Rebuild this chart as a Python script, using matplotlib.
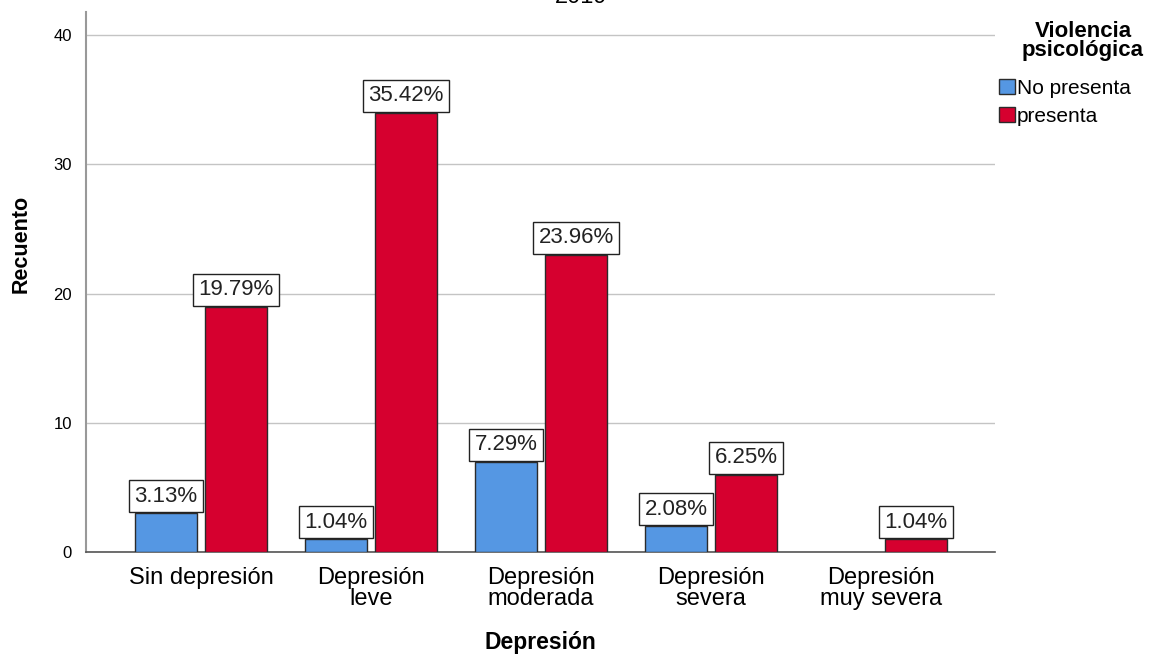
import matplotlib
matplotlib.use("Agg")
import matplotlib.pyplot as plt
import numpy as np
from decimal import Decimal, ROUND_HALF_UP
from matplotlib.patches import Patch

plt.rcParams['font.family'] = ['Liberation Sans', 'DejaVu Sans']

categories = ["Sin depresión", "Depresión\nleve", "Depresión\nmoderada",
              "Depresión\nsevera", "Depresión\nmuy severa"]
series_names = ["No presenta", "presenta"]
no_presenta = [3, 1, 7, 2, 0]
presenta = [19, 34, 23, 6, 1]
total = sum(no_presenta) + sum(presenta)
yticks = [0, 10, 20, 30, 40]
title = "2019"
legend_title = ["Violencia", "psicológica"]

colors = ["#5597E3", "#D6002F"]


def pct(v):
    p = Decimal(v * 100) / Decimal(total)
    return f"{p.quantize(Decimal('0.01'), rounding=ROUND_HALF_UP)}%"


fig = plt.figure(figsize=(11.59, 6.56), dpi=100)
ax = fig.add_axes([0.0742, 0.1585, 0.7843, 0.8232])

x = np.arange(len(categories))
width = 0.365
offset = 0.206
label_fs = 16
label_pad = 0.25

for vals, dx, col in [(no_presenta, -offset, colors[0]), (presenta, offset, colors[1])]:
    bars = ax.bar(x + dx, vals, width, color=col, edgecolor="#2b2b2b", linewidth=1.0, zorder=3)
    for b, v in zip(bars, vals):
        if v == 0:
            b.set_visible(False)
            continue
        ax.annotate(pct(v),
                    xy=(b.get_x() + b.get_width() / 2, v),
                    xytext=(0, label_pad * label_fs + 0.6), textcoords="offset points",
                    ha="center", va="bottom", fontsize=label_fs, color="#222222",
                    bbox=dict(boxstyle=f"square,pad={label_pad}", fc="white",
                              ec="#222222", lw=1.0),
                    zorder=5)

ax.set_xlim(-0.676, 4.67)
ax.set_ylim(0, 41.8)
ax.set_yticks(yticks)
ax.set_yticklabels([str(t) for t in yticks], fontsize=12)
ax.set_xticks(x)
ax.set_xticklabels(categories, fontsize=17, linespacing=0.92)
ax.tick_params(axis="x", length=0, pad=11)
ax.tick_params(axis="y", length=0, pad=10)

ax.grid(axis="y", color="#c4c4c4", linewidth=1.0, zorder=0)
ax.set_axisbelow(True)
for s in ["top", "right"]:
    ax.spines[s].set_visible(False)
ax.spines["left"].set_color("#999999")
ax.spines["left"].set_linewidth(1.5)
ax.spines["bottom"].set_color("#555555")
ax.spines["bottom"].set_linewidth(1.2)

ax.set_ylabel("Recuento", fontsize=15.5, fontweight="bold", va="center")
ax.yaxis.set_label_coords(-0.071, 0.57)
ax.set_xlabel("Depresión", fontsize=16.5, fontweight="bold", va="center")
ax.xaxis.set_label_coords(0.5, -0.168)

fig.text(581 / 1159, 1 - 3 / 656, title, ha="center", va="baseline", fontsize=17)

# legend heading drawn as two centred lines above the entries
fig.text(1083 / 1159, 1 - 37 / 656, legend_title[0], ha="center", va="baseline",
         fontsize=16, fontweight="bold")
fig.text(1083 / 1159, 1 - 56 / 656, legend_title[1], ha="center", va="baseline",
         fontsize=16, fontweight="bold")

handles = [Patch(facecolor=c, edgecolor="#2b2b2b", linewidth=1.0) for c in colors]
leg = fig.legend(handles, series_names,
                 loc="upper left", bbox_to_anchor=(999 / 1159, 1 - 79 / 656),
                 frameon=False, fontsize=15,
                 handlelength=0.75, handleheight=0.75, handletextpad=0.12,
                 labelspacing=0.42, borderaxespad=0, borderpad=0)

fig.savefig("out.png", dpi=100)
